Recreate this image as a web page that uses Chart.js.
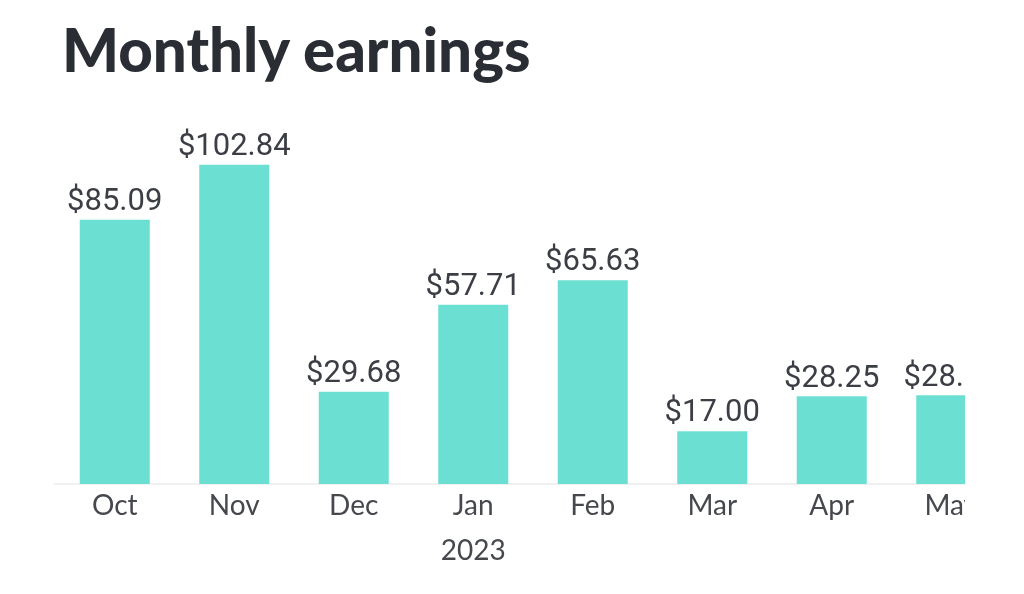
<!DOCTYPE html>
<html>
<head>
<meta charset="utf-8">
<script src="https://cdn.jsdelivr.net/npm/chart.js@4/dist/chart.umd.min.js"></script>
<style>
  html, body { margin: 0; padding: 0; background: #fff; }
  body { width: 1024px; height: 594px; position: relative; overflow: hidden; }
  h1 {
    position: absolute; left: 62px; top: 13px; margin: 0;
    font-family: Lato, "Noto Sans", sans-serif; font-weight: 900;
    font-size: 60px; line-height: 72px; color: #2a2d33; letter-spacing: 0px;
  }
  #clip { position: absolute; left: 0; top: 0; width: 965px; height: 594px; overflow: hidden; }
  #wrap { width: 1024px; height: 594px; }
</style>
</head>
<body>
<h1>Monthly earnings</h1>
<div id="clip"><div id="wrap"><canvas id="chart" width="1024" height="594"></canvas></div></div>
<script>
// valores
const months = [['Oct'], ['Nov'], ['Dec'], ['Jan', '2023'], ['Feb'], ['Mar'], ['Apr'], ['May']];
const earnings = [85.09, 102.84, 29.68, 57.71, 65.63, 17.00, 28.25, 28.57];
const barColor = '#6cdfd3';

// escreve o valor em cima de cada barra
const valueLabels = {
    id: 'valueLabels',
    afterDatasetsDraw(chart) {
        const ctx = chart.ctx;
        const meta = chart.getDatasetMeta(0);
        ctx.save();
        ctx.font = '31px Roboto';
        ctx.fillStyle = '#3b3e44';
        ctx.textAlign = 'center';
        ctx.textBaseline = 'bottom';
        meta.data.forEach(function (bar, i) {
            ctx.fillText('$' + earnings[i].toFixed(2), bar.x, bar.y - 2);
        });
        ctx.restore();
    }
};

new Chart(document.getElementById('chart').getContext('2d'), {
    type: 'bar',
    data: {
        labels: months,
        datasets: [{
            data: earnings,
            backgroundColor: barColor,
            borderWidth: 0,
            categoryPercentage: 1,
            barPercentage: 0.586
        }]
    },
    options: {
        responsive: false,
        animation: false,
        layout: { padding: { left: 55, right: 13, top: 130, bottom: 0 } },
        plugins: { legend: { display: false }, tooltip: { enabled: false } },
        scales: {
            y: { display: false, min: 0, max: 114 },
            x: {
                grid: { display: false, drawTicks: false },
                border: { display: true, color: '#f1f1f1', width: 2 },
                ticks: {
                    color: '#45484d',
                    padding: 0,
                    font: { family: 'Lato, "Noto Sans", sans-serif', size: 28, weight: 'normal', lineHeight: 1.6 }
                },
                afterFit(scale) { scale.height = 110; }
            }
        }
    },
    plugins: [valueLabels]
});
</script>
</body>
</html>
